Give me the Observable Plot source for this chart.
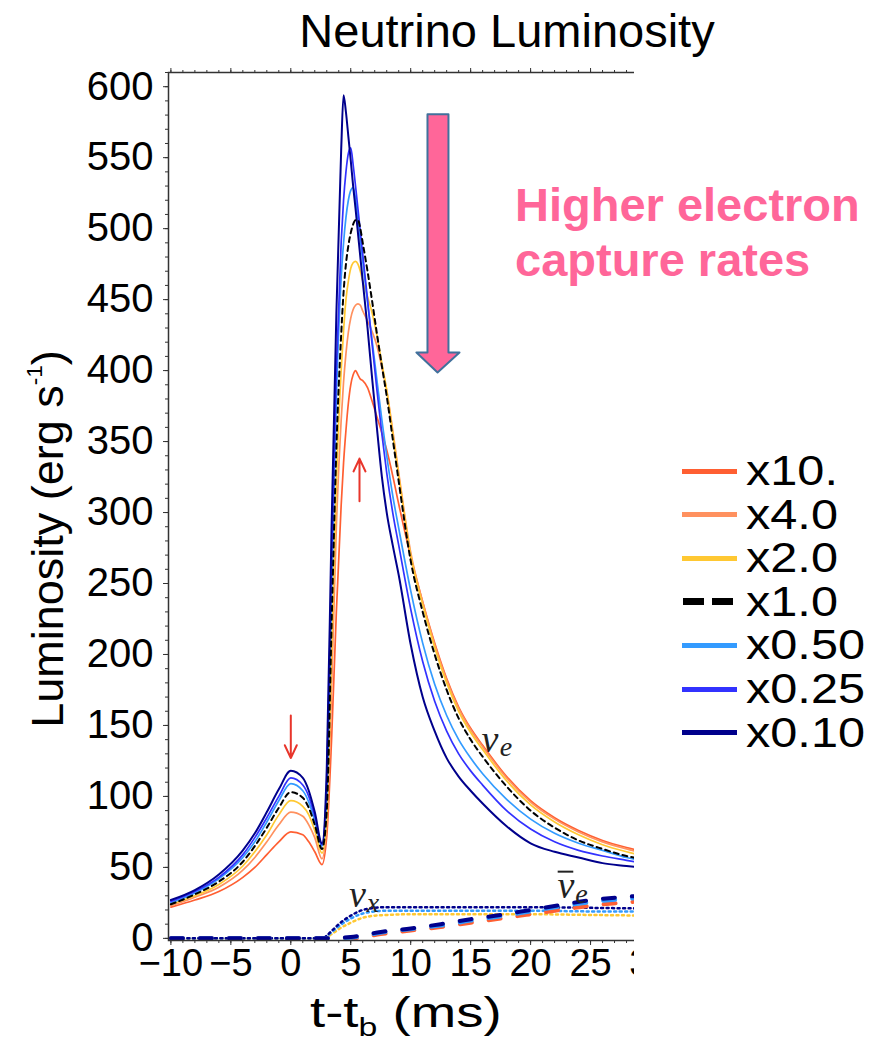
<!DOCTYPE html>
<html><head><meta charset="utf-8">
<script src="https://cdn.jsdelivr.net/npm/d3@7"></script>
<script src="https://cdn.jsdelivr.net/npm/@observablehq/plot@0.6"></script>
<style>
body{margin:0;background:#fff;}
#wrap{position:relative;width:883px;height:1052px;overflow:hidden;background:#fff;font-family:"Liberation Sans",Arial,Helvetica,sans-serif;color:#000;}
#clip{position:absolute;left:0;top:0;width:634px;height:1052px;overflow:hidden;}
#clip svg{max-width:none !important;width:680px;height:1052px;}
#title{position:absolute;left:0;width:1014px;top:7px;text-align:center;font-size:47px;line-height:1;white-space:nowrap;}
#ylab{position:absolute;left:47px;top:539px;font-size:45px;line-height:1;white-space:nowrap;transform:translate(-50%,-50%) rotate(-90deg);}
#ylab sup{font-size:0.5em;vertical-align:0.9em;line-height:0;}
#xlab{position:absolute;left:310px;top:992px;font-size:42px;line-height:1;white-space:nowrap;transform-origin:left center;transform:scaleX(1.3);}
#xlab sub{font-size:0.62em;vertical-align:-0.33em;line-height:0;}
#note{position:absolute;left:515px;top:177px;font-size:47px;line-height:55px;font-weight:bold;color:#FF6699;white-space:nowrap;}
.lg-line{position:absolute;left:682px;width:55px;height:5px;}
.lg-text{position:absolute;left:746px;font-size:38px;line-height:34px;height:34px;white-space:nowrap;transform-origin:left center;transform:scale(1.28,1.1);}
</style></head><body>
<div id="wrap">
  <div id="title">Neutrino Luminosity</div>
  <div id="clip"></div>
  <div id="ylab">Luminosity (erg s<sup>-1</sup>)</div>
  <div id="xlab">t-t<sub>b</sub> (ms)</div>
  <div id="note">Higher electron<br>capture rates</div>
</div>
<script>
// ---- data ----
const seriesNames  = ["x10.", "x4.0", "x2.0", "x1.0", "x0.50", "x0.25", "x0.10"];
const seriesColors = ["#FF5F32", "#FF915F", "#FFC832", "#000000", "#339BFF", "#3232FF", "#00008C"];

// time grid (ms, t - t_b)
const T = [-10,-8,-6,-4,-3,-2,-1,0,1,1.5,2,2.6,3.0,3.4,3.8,4.2,4.4,4.6,4.8,5.0,5.2,5.4,5.6,5.8,6.0,6.4,6.8,7.2,7.6,8,8.5,9,10,11,12,13,14,15,16,18,20,22,24,26,28,30];

// nu_e luminosity for each capture-rate factor
const nueX10  = [22,27,33,43,50,59,68,75,73,68,61,52,72,140,230,305,335,358,377,390,397,400,397,394,393,388,378,367,356,344,326,306,269,237,208,183,163,148,136,114,97,85,76,69,64,60];
const nueX4   = [23,29,36,48,57,68,80,89,86,80,71,56,80,175,290,365,392,412,427,437,443,446,447,446,442,435,427,417,402,386,358,328,272,237,207,182,162,147,135,113,96,84,75,68,63,59];
const nueX2   = [24,30,38,51,61,73,87,97,93,87,76,60,85,200,320,400,428,450,463,472,476,477,475,470,463,452,440,424,405,386,356,326,270,235,205,180,160,145,133,111,94,82,73,66,61,57];
const nueX1   = [24,31,40,54,65,78,92,103,99,92,80,63,90,220,345,425,455,475,488,497,503,506,506,500,490,470,448,425,403,382,352,322,266,230,200,175,155,140,128,107,90,78,69,63,58,55];
const nueX050 = [25,32,42,57,68,82,97,109,104,96,83,65,100,245,380,465,490,508,520,527,529,521,507,492,477,448,420,392,365,340,312,289,245,208,179,157,140,127,116,98,84,74,67,62,57,54];
const nueX025 = [26,33,43,59,71,85,100,113,108,100,86,66,110,265,400,490,520,540,553,557,545,530,514,498,482,450,417,385,355,328,300,277,232,195,167,146,130,118,108,90,77,68,62,58,55,52];
const nueX010 = [27,34,45,62,74,89,105,118,113,104,89,67,120,290,440,555,594,582,565,548,530,514,497,480,463,430,393,358,325,300,277,256,207,170,146,127,114,104,95,79,67,61,57,53,51,49];
const nueValues = [nueX10, nueX4, nueX2, nueX1, nueX050, nueX025, nueX010];

// nu_x (dotted) for three of the models
const TX = [-10,2.7,3.0,3.5,4,5,6,7,8,10,15,20,25,30];
const nuxX010 = [0,0,2,6,10,16,20,21.5,22,22,22,22,21.5,21];
const nuxX050 = [0,0,1.5,5,8.5,14,17.5,19,19.5,19.5,19.5,19.5,19,19];
const nuxX10  = [0,0,1,3.5,6.5,11,14.5,16,16.5,17,17,17,16.5,16];

// anti-nu_e (dashed) for three of the models
const TA = [-10,3,5,7.5,10,12.5,15,17.5,20,22.5,25,27.5,30];
const anueX010 = [0,0,1,4.5,7,10,13.5,16.5,20,23.5,27,29,30.5];
const anueX1   = [0,0,0.5,4,6.5,9,12.5,15.5,19,22.5,25.5,27.5,29];
const anueX10  = [0,0,0,3,5.5,8,11,14,17,20,23,25,26.5];

// axis ticks
const xTicks = [-10,-5,0,5,10,15,20,25,30];
const yTicks = [0,50,100,150,200,250,300,350,400,450,500,550,600];

// annotations
const pinkArrowT = [11.40,13.15,13.15,14.07,12.24,10.48,11.40,11.40];
const pinkArrowL = [580.5,580.5,412.8,412.8,398.7,412.8,412.8,580.5];
const redArrowT  = [0, 5.73];
const redArrowL1 = [157, 308];
const redArrowL2 = [127, 338];
const nuSymT   = [16.6, 5.55, 22.95];
const nuSymL   = [140, 31, 37];
const nuSymTxt = ["ν", "ν", "ν"];
const nuSubT   = [17.95, 6.85, 24.25];
const nuSubL   = [135, 25, 31];
const nuSubTxt = ["e", "x", "e"];
const barT1 = [22.3], barT2 = [23.6], barL = [47];

// ---- build ----
const rows = (ts, vs) => ts.map((t, j) => ({t, L: vs[j]}));
const idx = a => a.map((_, i) => i);

const marks = [];
// pink annotation arrow
marks.push(Plot.line(idx(pinkArrowT), {x: i => pinkArrowT[i], y: i => pinkArrowL[i], fill: "#FF6699", stroke: "#41719C", strokeWidth: 2, curve: "linear"}));
// nu_x dotted
[[nuxX10, 2], [nuxX050, 4], [nuxX010, 6]].forEach(([v, ci]) =>
  marks.push(Plot.line(rows(TX, v), {x: "t", y: "L", stroke: seriesColors[ci], strokeWidth: 2.5, strokeDasharray: "2,3.5", curve: "monotone-x"})));
// anti nu_e dashed
[[anueX10, 0], [anueX1, 4], [anueX010, 6]].forEach(([v, ci]) =>
  marks.push(Plot.line(rows(TA, v), {x: "t", y: "L", stroke: seriesColors[ci], strokeWidth: 4, strokeDasharray: "12,17", curve: "monotone-x"})));
// nu_e solid curves
[0,1,2,4,5,6].forEach(i =>
  marks.push(Plot.line(rows(T, nueValues[i]), {x: "t", y: "L", stroke: seriesColors[i], strokeWidth: i === 6 ? 2 : 1.7, curve: "monotone-x"})));
// x1.0 dashed on top
marks.push(Plot.line(rows(T, nueValues[3]), {x: "t", y: "L", stroke: "#000", strokeWidth: 2, strokeDasharray: "5,4", curve: "monotone-x"}));
// red arrows
marks.push(Plot.arrow(idx(redArrowT), {x1: i => redArrowT[i], x2: i => redArrowT[i], y1: i => redArrowL1[i], y2: i => redArrowL2[i], stroke: "#E8352B", strokeWidth: 2, headLength: 11, headAngle: 50}));
// neutrino labels
marks.push(Plot.text(idx(nuSymT), {x: i => nuSymT[i], y: i => nuSymL[i], text: i => nuSymTxt[i], fontSize: 38, fontStyle: "italic", fontFamily: "Liberation Serif, DejaVu Serif, serif", fill: "#222"}));
marks.push(Plot.text(idx(nuSubT), {x: i => nuSubT[i], y: i => nuSubL[i], text: i => nuSubTxt[i], fontSize: 28, fontStyle: "italic", fontFamily: "Liberation Serif, DejaVu Serif, serif", fill: "#222"}));
marks.push(Plot.ruleY(idx(barL), {y: i => barL[i], x1: i => barT1[i], x2: i => barT2[i], stroke: "#222", strokeWidth: 2}));
// frame and axes
marks.push(Plot.frame({stroke: "#333", strokeWidth: 1.5}));
marks.push(Plot.axisY(yTicks, {anchor: "left", tickSize: 5, tickPadding: 10, fontSize: 40, label: null, stroke: "#333"}));
marks.push(Plot.axisY(d3.range(0, 611, 10), {anchor: "left", tickSize: 3, tickFormat: () => "", label: null, stroke: "#333"}));
marks.push(Plot.axisX(xTicks, {anchor: "bottom", tickSize: 5, tickPadding: 4, fontSize: 38, label: null, stroke: "#333"}));
marks.push(Plot.axisX(d3.range(-10, 31, 1), {anchor: "bottom", tickSize: 3, tickFormat: () => "", label: null, stroke: "#333"}));
marks.push(Plot.axisX(xTicks, {anchor: "top", tickSize: 5, tickFormat: () => "", label: null, stroke: "#333"}));
marks.push(Plot.axisX(d3.range(-10, 31, 1), {anchor: "top", tickSize: 3, tickFormat: () => "", label: null, stroke: "#333"}));

const chart = Plot.plot({
  width: 680, height: 1052,
  marginLeft: 168, marginRight: 30, marginTop: 72, marginBottom: 112,
  x: {domain: [-10.2, 30]},
  y: {domain: [-1.5, 610]},
  style: {fontFamily: "Liberation Sans, Arial, Helvetica, sans-serif", background: "transparent", color: "#000", overflow: "visible", maxWidth: "none"},
  marks
});
document.getElementById("clip").appendChild(chart);

// legend
const wrap = document.getElementById("wrap");
seriesNames.forEach((name, i) => {
  const cy = 471 + i * 43.6;
  if (name === "x1.0") {
    [683, 712].forEach(x0 => {
      const d = document.createElement("div");
      d.className = "lg-line";
      d.style.cssText = `left:${x0}px;width:21px;height:7px;top:${cy - 3.5}px;background:#000;`;
      wrap.appendChild(d);
    });
  } else {
    const d = document.createElement("div");
    d.className = "lg-line";
    d.style.top = (cy - 2.5) + "px";
    d.style.background = seriesColors[i];
    wrap.appendChild(d);
  }
  const t = document.createElement("div");
  t.className = "lg-text";
  t.style.top = (cy - 17) + "px";
  t.textContent = name;
  wrap.appendChild(t);
});
</script>
</body></html>
